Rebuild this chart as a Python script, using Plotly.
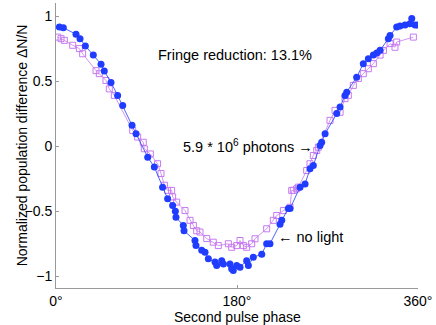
import plotly.graph_objects as go

# no light (blue filled circles)
blue_phase = [3.3, 7.3, 19.9, 23.9, 29.2, 37.1, 44.8, 48.0, 54.7, 61.3, 66.3, 75.6, 79.6,
              91.2, 97.8, 106.0, 111.0, 116.0, 118.7, 119.3, 126.6, 127.3, 138.2, 139.2,
              144.9, 148.2, 151.5, 158.1, 159.8, 164.8, 166.4, 173.0, 174.7, 176.3, 179.7,
              183.0, 189.6, 191.3, 196.2, 204.6, 209.5, 212.8, 222.8, 224.5, 231.0, 232.7,
              242.7, 247.7, 252.6, 255.9, 262.6, 264.2, 267.6, 279.2, 282.5, 287.4, 289.1,
              299.0, 305.6, 310.6, 315.6, 319.0, 322.3, 330.5, 332.2, 338.8, 342.1, 347.1,
              352.0, 353.8, 357.1, 360.0]
blue_dn = [0.915, 0.91, 0.86, 0.826, 0.77, 0.70, 0.63, 0.577, 0.49, 0.39, 0.313, 0.16, 0.095,
           -0.085, -0.16, -0.315, -0.405, -0.456, -0.50, -0.546, -0.61, -0.65, -0.725, -0.764,
           -0.80, -0.815, -0.866, -0.89, -0.918, -0.88, -0.905, -0.905, -0.943, -0.956, -0.918,
           -0.93, -0.88, -0.918, -0.854, -0.83, -0.75, -0.75, -0.60, -0.57, -0.48, -0.48,
           -0.315, -0.29, -0.174, -0.148, 0.005, 0.03, 0.095, 0.25, 0.30, 0.39, 0.415,
           0.53, 0.634, 0.672, 0.70, 0.715, 0.736, 0.826, 0.85, 0.915, 0.923, 0.93,
           0.94, 0.98, 0.93, 0.93]

# 5.9e6 photons (magenta open squares)
pink_phase = [1.7, 5.0, 8.3, 16.6, 23.2, 26.5, 39.8, 43.1, 49.7, 53.0, 58.0, 76.3, 81.2,
              86.8, 87.8, 93.8, 101.0, 104.4, 107.8, 111.0, 115.0, 116.0, 120.0, 128.3,
              133.3, 136.6, 139.9, 143.2, 149.9, 156.4, 161.4, 171.4, 174.7, 179.7, 183.0,
              186.3, 189.6, 194.6, 197.9, 209.5, 216.1, 219.5, 226.1, 232.7, 234.4, 236.0,
              239.4, 241.0, 249.3, 252.6, 255.9, 259.3, 260.9, 272.5, 277.5, 282.5, 287.4,
              290.7, 295.7, 300.7, 305.6, 310.6, 315.6, 322.3, 325.6, 332.2, 337.1, 338.8,
              355.4]
pink_dn = [0.838, 0.826, 0.813, 0.775, 0.75, 0.71, 0.58, 0.557, 0.505, 0.44, 0.39, 0.12, 0.07,
           0.03, -0.02, -0.06, -0.135, -0.21, -0.30, -0.34, -0.34, -0.39, -0.43, -0.495,
           -0.57, -0.61, -0.65, -0.66, -0.71, -0.738, -0.764, -0.75, -0.777, -0.764, -0.725,
           -0.764, -0.777, -0.75, -0.712, -0.635, -0.57, -0.533, -0.495, -0.47, -0.34, -0.34,
           -0.328, -0.315, -0.187, -0.135, -0.072, -0.033, -0.008, 0.198, 0.275, 0.26, 0.365,
           0.39, 0.467, 0.52, 0.557, 0.595, 0.634, 0.70, 0.736, 0.788, 0.76, 0.80,
           0.838]

x_ticks = [0, 180, 360]
x_labels = ["0°", "180°", "360°"]
y_ticks = [-1, -0.5, 0, 0.5, 1]
y_labels = ["\u22121", "\u22120.5", "0", "0.5", "1"]

FONT = "Liberation Sans, Arial, Helvetica, sans-serif"
BLUE = "#1f3cff"
PINK = "#c77af0"
FS = 14

fig = go.Figure()
fig.add_trace(go.Scatter(
    x=pink_phase, y=pink_dn, mode="lines+markers",
    line=dict(color=PINK, width=0.8),
    marker=dict(symbol="square-open", size=6, color=PINK, line=dict(width=1)),
))
fig.add_trace(go.Scatter(
    x=blue_phase, y=blue_dn, mode="lines+markers",
    line=dict(color=BLUE, width=0.8),
    marker=dict(symbol="circle", size=7, color=BLUE),
))

fig.add_annotation(x=178, y=0.70, text="Fringe reduction: 13.1%", showarrow=False,
                   font=dict(size=14.5, color="black", family=FONT))
fig.add_annotation(x=124, y=0.0, xanchor="left", text="5.9 * 10<sup>6</sup> photons \u2192",
                   showarrow=False, font=dict(size=14.5, color="black", family=FONT))
fig.add_annotation(x=219, y=-0.70, xanchor="left", text="\u2190 no light", showarrow=False,
                   font=dict(size=14.5, color="black", family=FONT))

# axis titles placed by hand so they fit the tight margins
fig.add_annotation(xref="paper", yref="paper", x=0.5, y=-0.101, yanchor="middle",
                   text="Second pulse phase", showarrow=False,
                   font=dict(size=FS, color="black", family=FONT))
fig.add_annotation(xref="paper", yref="paper", x=-0.122, y=0.5, textangle=-90,
                   text="Normalized population difference \u0394N/N", showarrow=False,
                   font=dict(size=FS, color="black", family=FONT))

fig.update_xaxes(range=[0, 360], tickvals=x_ticks, ticktext=x_labels, automargin=False,
                 showgrid=False, zeroline=False, showline=True, linecolor="#999999",
                 linewidth=1, ticks="inside", ticklen=3, tickcolor="#999999",
                 tickfont=dict(size=FS, color="black"))
fig.update_yaxes(range=[-1.09, 1.1], tickvals=y_ticks, ticktext=y_labels, automargin=False,
                 showgrid=False, zeroline=False, showline=True, linecolor="#999999",
                 linewidth=1, ticks="inside", ticklen=3, tickcolor="#999999",
                 tickfont=dict(size=FS, color="black"))
fig.update_layout(
    width=436, height=325, showlegend=False,
    plot_bgcolor="white", paper_bgcolor="white",
    font=dict(family=FONT, size=FS, color="black"),
    margin=dict(l=56, r=18, t=3, b=37),
)
# drop the browser's default body margin so the figure sits at the page corner
fig.write_html("out.html", config={"displayModeBar": False},
               post_script="document.body.style.margin='0';document.body.style.overflow='hidden';")
